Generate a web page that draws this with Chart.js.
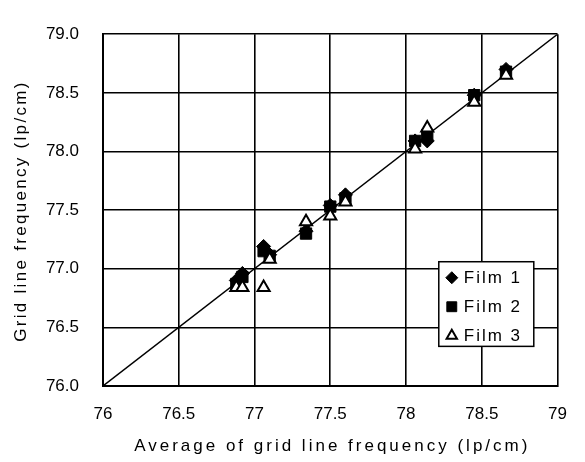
<!DOCTYPE html>
<html><head><meta charset="utf-8">
<script src="https://cdn.jsdelivr.net/npm/chart.js@4/dist/chart.umd.min.js"></script>
<style>html,body{margin:0;padding:0;background:#fff}#wrap{width:585px;height:462px;position:relative}</style>
</head><body><div id="wrap"><canvas id="c" width="585" height="462"></canvas></div>
<script>
// Average of grid line frequency (x), shared by all three films
const avgFreq = [76.88, 76.92, 77.06, 77.10, 77.34, 77.50, 77.60, 78.06, 78.14, 78.45, 78.66];
const film1 = [76.90, 76.96, 77.19, 77.12, 77.32, 77.54, 77.63, 78.09, 78.09, 78.48, 78.70];
const film2 = [76.87, 76.93, 77.15, 77.11, 77.30, 77.53, 77.60, 78.09, 78.14, 78.48, 78.68];
const film3 = [76.84, 76.84, 76.84, 77.08, 77.40, 77.45, 77.57, 78.02, 78.20, 78.42, 78.65];
const identityEnds = [76, 79];
const seriesNames = ['Film 1', 'Film 2', 'Film 3'];
const xTitle = 'Average of grid line frequency (lp/cm)';
const yTitle = 'Grid line frequency (lp/cm)';
const axisMin = 76, axisMax = 79, axisStep = 0.5;

const FONT = '"Liberation Sans", Arial, sans-serif';
const toPts = (ys) => ys.map((y, i) => ({x: avgFreq[i], y}));

const markerStyles = [
  {pointStyle: 'rectRot', radius: 7, bg: '#000', border: '#000', bw: 1},
  {pointStyle: 'rect', radius: 8, bg: '#000', border: '#000', bw: 1},
  {pointStyle: 'triangle', radius: 7, bg: '#fff', border: '#000', bw: 2}
];
const seriesData = [film1, film2, film3];

const datasets = seriesData.map((ys, k) => ({
  label: seriesNames[k],
  data: toPts(ys),
  pointStyle: markerStyles[k].pointStyle,
  pointRadius: markerStyles[k].radius,
  pointBackgroundColor: markerStyles[k].bg,
  pointBorderColor: markerStyles[k].border,
  pointBorderWidth: markerStyles[k].bw,
  showLine: false,
  order: 2 - k
}));
datasets.push({
  type: 'line',
  label: 'y = x',
  data: identityEnds.map(v => ({x: v, y: v})),
  borderColor: '#000',
  borderWidth: 1.4,
  pointRadius: 0,
  fill: false,
  order: 5
});

const overlay = {
  id: 'overlay',
  afterDraw(chart) {
    const ctx = chart.ctx;
    const a = chart.chartArea;
    const xs = chart.scales.x, ys = chart.scales.y;
    ctx.save();
    ctx.fillStyle = '#000';
    ctx.textAlign = 'center';
    ctx.textBaseline = 'middle';
    ctx.font = '17px ' + FONT;
    ctx.letterSpacing = '3px';
    ctx.fillText(xTitle, (a.left + a.right) / 2 + 2, 446);
    ctx.save();
    ctx.translate(21, (a.top + a.bottom) / 2 + 1);
    ctx.rotate(-Math.PI / 2);
    ctx.letterSpacing = '2.3px';
    ctx.fillText(yTitle, 0, 0);
    ctx.restore();
    // legend box inside plot
    const bw = 95;
    const bx = xs.getPixelForValue(78.5) - 43;
    const by = ys.getPixelForValue(77.0) - 7;
    const bh = ys.getPixelForValue(76.5) + 19 - by;
    ctx.fillStyle = '#fff';
    ctx.fillRect(bx, by, bw, bh);
    ctx.strokeStyle = '#000';
    ctx.lineWidth = 1.5;
    ctx.strokeRect(bx, by, bw, bh);
    ctx.font = '17px ' + FONT;
    ctx.letterSpacing = '2px';
    ctx.textAlign = 'left';
    for (let k = 0; k < 3; k++) {
      const cy = by + 16 + k * 29;
      const m = markerStyles[k];
      ctx.fillStyle = m.bg;
      ctx.strokeStyle = m.border;
      ctx.lineWidth = m.bw;
      Chart.helpers.drawPoint(ctx, {pointStyle: m.pointStyle, radius: m.radius - 1, rotation: 0, borderWidth: m.bw}, bx + 13, cy);
      ctx.fillStyle = '#000';
      ctx.fillText(seriesNames[k], bx + 25, cy + 1);
    }
    ctx.restore();
  }
};

new Chart(document.getElementById('c'), {
  type: 'scatter',
  data: {datasets},
  options: {
    responsive: false,
    devicePixelRatio: 1,
    animation: false,
    layout: {padding: {top: 13, right: 12, left: 0, bottom: 0}},
    plugins: {legend: {display: false}, tooltip: {enabled: false}},
    scales: {
      x: {
        type: 'linear', min: axisMin, max: axisMax,
        afterFit(s) { s.height = 76; },
        ticks: {stepSize: axisStep, color: '#000', font: {size: 17, family: FONT}, padding: 18,
          callback: v => String(v), maxRotation: 0},
        grid: {color: '#000', lineWidth: 1.6, drawTicks: false},
        border: {color: '#000', width: 2}
      },
      y: {
        type: 'linear', min: axisMin, max: axisMax,
        afterFit(s) { s.width = 103; },
        ticks: {stepSize: axisStep, color: '#000', font: {size: 17, family: FONT}, padding: 24,
          callback: v => v.toFixed(1)},
        grid: {color: '#000', lineWidth: 1.6, drawTicks: false},
        border: {color: '#000', width: 2}
      }
    }
  },
  plugins: [overlay]
});
</script>
</body></html>
